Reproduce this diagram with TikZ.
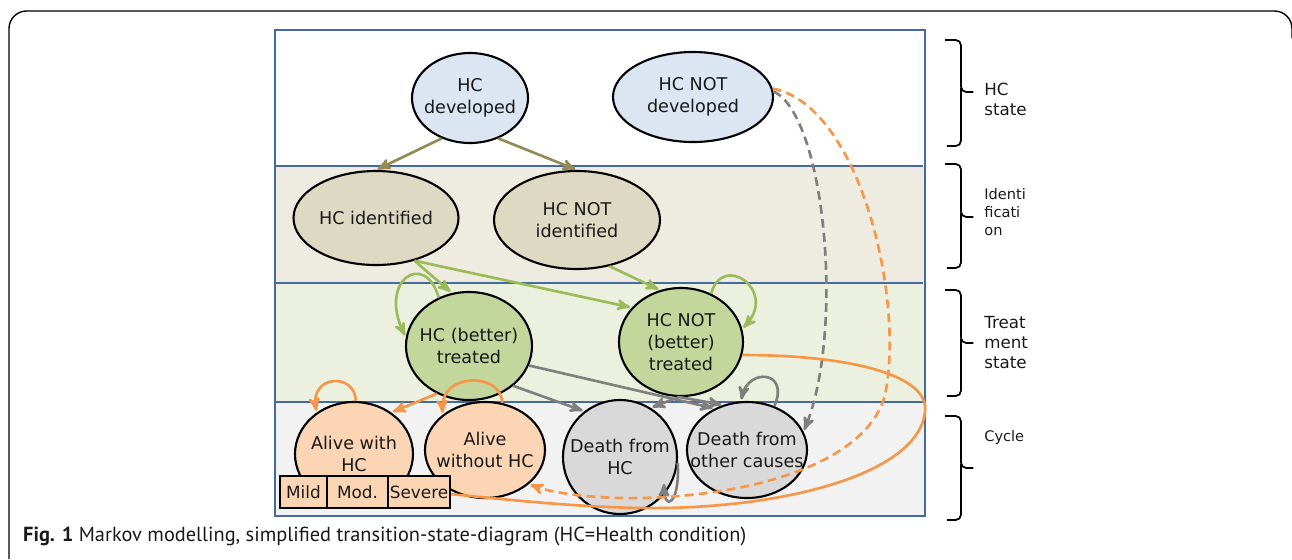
\documentclass[tikz,border=0pt]{standalone}
\usepackage{fontspec}
\setmainfont{PT Sans}
\newfontfamily\statefont{DejaVu Sans}
\usetikzlibrary{arrows,shapes.geometric}

\definecolor{boxblue}{RGB}{70,105,160}
\definecolor{bandtan}{RGB}{238,236,225}
\definecolor{bandgreen}{RGB}{235,241,222}
\definecolor{bandgray}{RGB}{242,242,242}
\definecolor{devblue}{RGB}{220,230,242}
\definecolor{idtan}{RGB}{221,217,195}
\definecolor{trgreen}{RGB}{195,214,155}
\definecolor{alorange}{RGB}{252,213,181}
\definecolor{dgray}{RGB}{217,217,217}
\definecolor{olivec}{RGB}{148,138,84}
\definecolor{greenc}{RGB}{155,187,89}
\definecolor{orangec}{RGB}{247,150,70}
\definecolor{grayc}{RGB}{127,127,127}

\begin{document}
\begin{tikzpicture}[x=0.02cm,y=-0.02cm,>=stealth',shorten >= 1pt,
  every node/.style={align=center,text=black!90},
  lbl/.style={font=\statefont\fontsize{10}{12.5}\selectfont,inner sep=0pt},
  st/.style={ellipse,draw,line width=1.2pt,inner sep=0pt,label={[lbl]center:#1}},
  ell/.style 2 args={minimum width=#1*0.02cm,minimum height=#2*0.02cm},
  sev/.style={draw,line width=1pt,fill=alorange,inner sep=0pt,minimum height=0.64cm,font=\statefont\fontsize{9.6}{11}\selectfont},
  tr/.style={->,line width=1.5pt},
  dsh/.style={dash pattern=on 5pt off 3pt},
  brace/.style={line width=1pt,rounded corners=3pt},
  side/.style={anchor=north west,inner sep=0pt,font=\statefont\fontsize{9.5}{11.5}\selectfont,align=left},
  sidesmall/.style={anchor=north west,inner sep=0pt,font=\statefont\fontsize{8.3}{10.2}\selectfont,align=left}]
\useasboundingbox (0,0) rectangle (1292,559);

% frame and bands
\draw[line width=0.8pt,rounded corners=10pt] (9,559) |- (1292,11) -- (1292,40);
\fill[white] (275,30) rectangle (925,166);
\fill[bandtan] (275,166) rectangle (925,283);
\fill[bandgreen] (275,283) rectangle (925,402);
\fill[bandgray] (275,402) rectangle (925,516);
\draw[boxblue,line width=1.3pt] (275,30) rectangle (925,516);
\foreach \yy in {166,283,402}
  \draw[boxblue,line width=1.3pt] (275,\yy) -- (925,\yy);

% states
\node[st={HC\\developed},fill=devblue,ell={116}{90}] (dev) at (470,98) {};
\node[st={HC NOT\\developed},fill=devblue,ell={160}{90}] (notdev) at (693,97) {};
\node[st={HC identified},fill=idtan,ell={165}{94}] (ident) at (376,218) {};
\node[st={HC NOT\\identified},fill=idtan,ell={166}{98}] (notident) at (577,220) {};
\node[st={HC (better)\\treated},fill=trgreen,ell={126}{108}] (treat) at (469,346) {};
\node[st={HC NOT\\(better)\\treated},fill=trgreen,ell={124}{108}] (nottreat) at (681,342) {};
\node[st={Alive with\\HC},fill=alorange,ell={118}{104}] (alive) at (354,454) {};
\node[st={Alive\\without HC},fill=alorange,ell={120}{96}] (alivenot) at (485,450) {};
\node[st={Death from\\HC},fill=dgray,ell={114}{114}] (dhc) at (620,457) {};
\node[st={Death from\\other causes},fill=dgray,ell={120}{96}] (dother) at (747,450) {};
\coordinate (dhcloop) at (664,482);

% transitions
\draw[tr,olivec] (dev.235) -- (ident.north);
\draw[tr,olivec] (dev.-55) -- (notident.north);
\draw[tr,greenc] (ident.-48) -- (treat.108);
\draw[tr,greenc] (ident.-48) -- (nottreat.145);
\draw[tr,greenc] (notident.-55) -- (nottreat.112);
\draw[tr,greenc] (treat.122) .. controls (425,250) and (378,280) .. (treat.172);
\draw[tr,greenc] (nottreat.58) .. controls (722,252) and (778,290) .. (nottreat.12);
\draw[tr,orangec] (treat.236) -- (alive.48);
\draw[tr,orangec] (alive.88) .. controls (355,372) and (310,375) .. (alive.132);
\draw[tr,orangec] (alivenot.70) .. controls (502,372) and (440,372) .. (alivenot.140);
\draw[tr,grayc] (treat.-42) -- (dhc.128);
\draw[tr,grayc] (treat.-18) -- (dother.128);
\draw[tr,grayc] (nottreat.-92) -- (dhc.58);
\draw[tr,grayc] (nottreat.-92) -- (dother.118);
\draw[tr,grayc] (dother.58) .. controls (790,370) and (748,368) .. (dother.97);
\draw[tr,grayc] (dhc.-6) .. controls (680,505) and (664,512) .. (dhcloop);
\draw[tr,grayc,dsh] (notdev.4) .. controls (825,115) and (845,330) .. (dother.18);
\draw[tr,orangec,dsh] (notdev.6) .. controls (860,105) and (905,300) .. (885,395)
  .. controls (865,470) and (730,500) .. (620,498)
  .. controls (580,497) and (550,492) .. (alivenot.-38);
\draw[tr,orangec] (nottreat.-12) .. controls (850,355) and (930,375) .. (925,412)
  .. controls (918,475) and (780,510) .. (640,508)
  .. controls (540,506) and (450,492) .. (alive.-40);

% severity levels
\node[sev,minimum width=0.94cm] (mild) at (303.5,492) {Mild};
\node[sev,minimum width=1.22cm] (mod) at (357.5,492) {Mod.};
\node[sev,minimum width=1.24cm] (severe) at (419,492) {Severe};

% braces and phases
\draw[brace] (945,40) -| (961,92) -- (975,92);
\draw[brace] (961,88) |- (945,146);
\draw[brace] (945,164) -| (961,217) -- (975,217);
\draw[brace] (961,213) |- (945,268);
\draw[brace] (945,290) -| (961,343) -- (975,343);
\draw[brace] (961,339) |- (945,396);
\draw[brace] (945,416) -| (961,468) -- (975,468);
\draw[brace] (961,464) |- (945,520);
\node[side] (phstate) at (984,83) {HC\\state};
\node[sidesmall] (phident) at (984,188) {Identi\\ficati\\on};
\node[side] (phtreat) at (984,316) {Treat\\ment\\state};
\node[sidesmall] (phcycle) at (984,430) {Cycle};

% caption
\node[anchor=base west,font=\fontsize{11.6}{13}\selectfont] (caption) at (17,541)
  {\textbf{Fig. 1} Markov modelling, simplified transition-state-diagram (HC=Health condition)};
\end{tikzpicture}
\end{document}
